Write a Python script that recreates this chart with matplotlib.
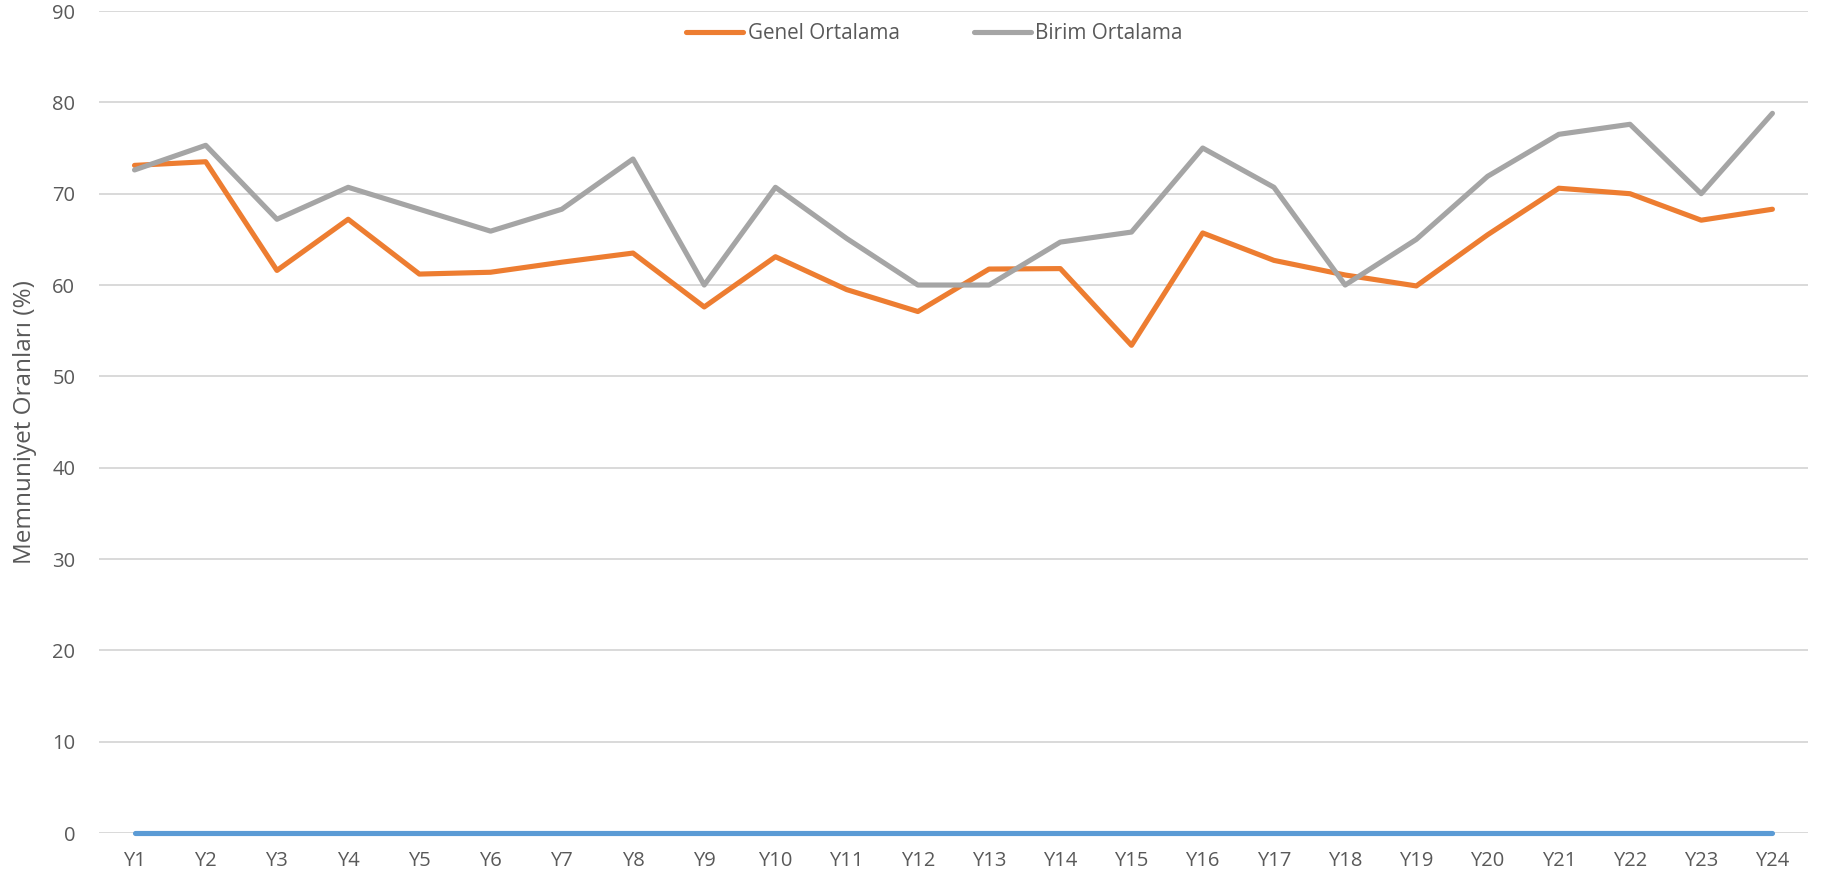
from matplotlib import pyplot as plt
from matplotlib.lines import Line2D

categories = ['Y%d' % i for i in range(1, 25)]
genel = [73.1, 73.5, 61.6, 67.2, 61.2, 61.4, 62.5, 63.5, 57.6, 63.1, 59.5, 57.1,
         61.75, 61.8, 53.4, 65.7, 62.7, 61.1, 59.9, 65.5, 70.6, 70.0, 67.1, 68.3]
birim = [72.6, 75.3, 67.2, 70.7, 68.3, 65.9, 68.3, 73.8, 60.0, 70.7, 65.1, 60.0,
         60.0, 64.7, 65.8, 75.0, 70.7, 60.0, 65.0, 71.9, 76.5, 77.6, 70.0, 78.8]
baseline = [0] * 24

plt.rcParams['font.family'] = ['Open Sans', 'DejaVu Sans']
text_color = '#595959'
lw = 3.7

fig = plt.figure(figsize=(18.25, 8.83), dpi=100)
ax = fig.add_axes([0.0542, 0.0566, 0.9365, 0.9309])

x = range(len(categories))
ax.plot(x, baseline, color='#5B9BD5', linewidth=lw, solid_capstyle='round',
        zorder=3, clip_on=False)
ax.plot(x, genel, color='#ED7D31', linewidth=lw, solid_capstyle='round', zorder=4)
ax.plot(x, birim, color='#A5A5A5', linewidth=lw, solid_capstyle='round', zorder=5)

ax.set_xlim(-0.5, len(categories) - 0.5)
ax.set_ylim(0, 90)
ax.set_yticks(range(0, 91, 10))
ax.set_xticks(list(x))
ax.set_xticklabels(categories)
ax.yaxis.grid(True, color='#D9D9D9', linewidth=1.4)
ax.set_axisbelow(True)
for spine in ax.spines.values():
    spine.set_visible(False)
ax.tick_params(length=0, labelsize=14.5, colors=text_color, pad=13)
ax.tick_params(axis='y', pad=17)
ax.set_ylabel('Memnuniyet Oranları (%)', fontsize=17.5, color=text_color)
ax.yaxis.set_label_coords(-0.036, 0.5)

handles = [Line2D([], [], color='#ED7D31', linewidth=lw, solid_capstyle='round'),
           Line2D([], [], color='#A5A5A5', linewidth=lw, solid_capstyle='round')]
fig.legend(handles, ['Genel Ortalama', 'Birim Ortalama'], loc='center',
           bbox_to_anchor=(0.512, 0.962), ncol=2, frameon=False, fontsize=14.9,
           labelcolor=text_color, handlelength=2.75, handletextpad=0.2,
           columnspacing=3.6)

fig.savefig('out.png', dpi=100)
